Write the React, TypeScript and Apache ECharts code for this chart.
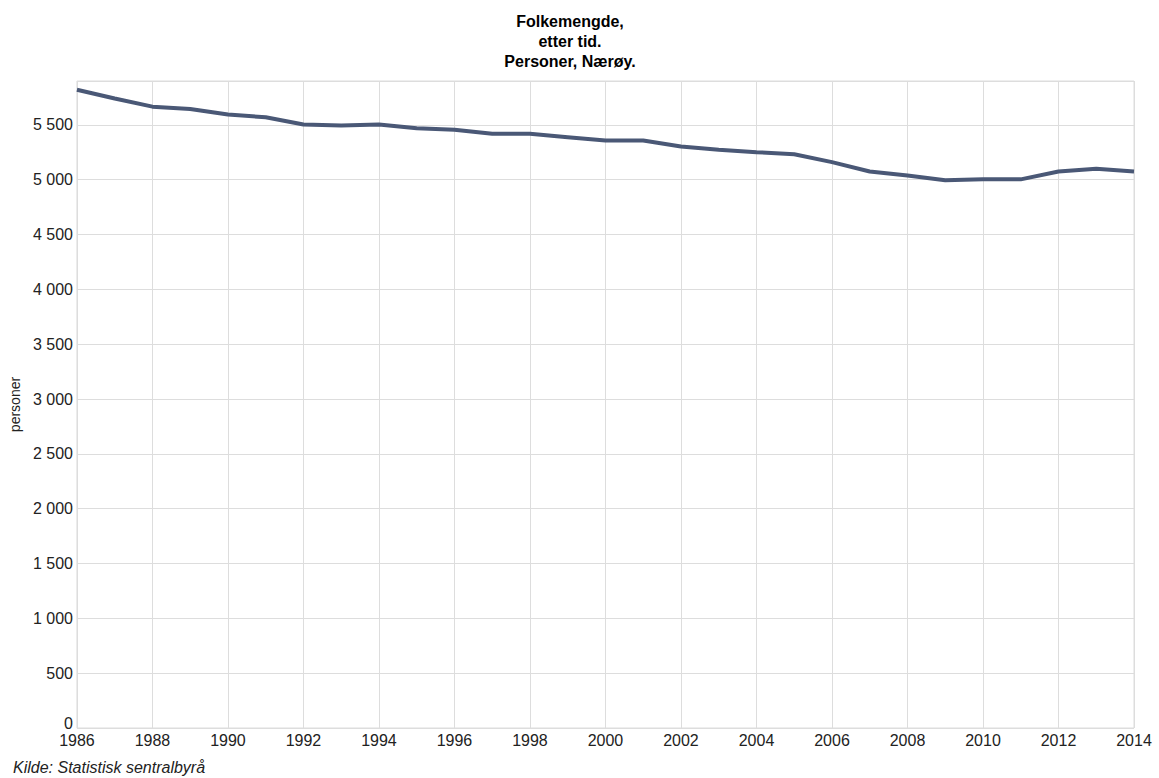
import React, { useEffect, useRef } from "react";
import * as echarts from "echarts";

const years: number[] = [1986, 1987, 1988, 1989, 1990, 1991, 1992, 1993, 1994, 1995, 1996, 1997, 1998, 1999, 2000, 2001, 2002, 2003, 2004, 2005, 2006, 2007, 2008, 2009, 2010, 2011, 2012, 2013, 2014];
const population: number[] = [5820, 5740, 5666, 5645, 5594, 5569, 5503, 5494, 5503, 5469, 5455, 5418, 5418, 5388, 5357, 5357, 5303, 5273, 5251, 5232, 5160, 5075, 5039, 4994, 5003, 5003, 5075, 5100, 5075];
const titleLines: string[] = ["Folkemengde,", "etter tid.", "Personer, Nærøy."];
const yAxisName = "personer";
const sourceText = "Kilde: Statistisk sentralbyrå";

const fmtThousands = (v: number) =>
  String(v).replace(/\B(?=(\d{3})+(?!\d))/g, " ");

export default function App() {
  const ref = useRef<HTMLDivElement>(null);
  useEffect(() => {
    document.body.style.margin = "0";
    if (!ref.current) return;
    const chart = echarts.init(ref.current, undefined, { renderer: "svg" });
    const font = "'Liberation Sans', Arial, sans-serif";
    chart.setOption({
      animation: false,
      backgroundColor: "#ffffff",
      grid: {
        left: 75,
        right: 25,
        top: 81,
        bottom: 50,
        show: true,
        borderColor: "#dddddd",
        borderWidth: 1,
      },
      xAxis: {
        type: "value",
        min: 1986,
        max: 2014,
        interval: 2,
        axisLine: { show: false },
        axisTick: { show: false },
        splitLine: { show: true, lineStyle: { color: "#dddddd", width: 1 } },
        axisLabel: {
          formatter: (v: number) => String(v),
          fontFamily: font,
          fontSize: 16,
          color: "#222",
          margin: 4,
        },
      },
      yAxis: {
        type: "value",
        min: 0,
        max: 5900,
        interval: 500,
        name: yAxisName,
        nameLocation: "middle",
        nameGap: 51,
        nameRotate: 90,
        nameTextStyle: { fontFamily: font, fontSize: 14, color: "#222" },
        axisLine: { show: false },
        axisTick: { show: false },
        splitLine: { show: true, lineStyle: { color: "#dddddd", width: 1 } },
        axisLabel: {
          formatter: (v: number) =>
            v === 0 ? "{z|0}" : v % 500 === 0 ? fmtThousands(v) : "",
          fontFamily: font,
          fontSize: 16,
          color: "#222",
          margin: 4,
          showMaxLabel: false,
          rich: {
            z: {
              fontFamily: font,
              fontSize: 16,
              color: "#222",
              padding: [0, 0, 10, 0],
            },
          },
        },
      },
      graphic: [
        {
          type: "text",
          x: 570,
          y: 11,
          style: {
            text: titleLines.join("\n"),
            font: `bold 16px ${font}`,
            fill: "#000",
            align: "center",
            verticalAlign: "top",
            lineHeight: 20,
          },
        },
        {
          type: "text",
          left: 13,
          top: 759,
          style: {
            text: sourceText,
            font: `italic 16px ${font}`,
            fill: "#222",
          },
        },
      ],
      series: [
        {
          type: "line",
          data: years.map((y, i) => [y, population[i]]),
          symbol: "none",
          lineStyle: { color: "#4a5876", width: 4 },
          itemStyle: { color: "#4a5876" },
        },
      ],
    });
    return () => chart.dispose();
  }, []);
  return <div ref={ref} style={{ width: 1159, height: 778 }} />;
}
